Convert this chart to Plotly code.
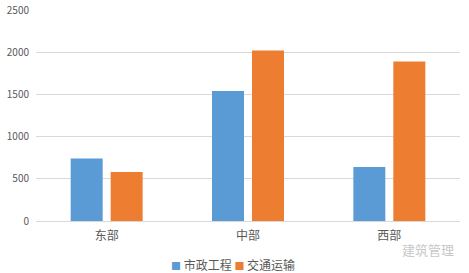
import plotly.graph_objects as go

categories = ["东部", "中部", "西部"]
series_names = ["市政工程", "交通运输"]
municipal = [740, 1540, 640]
transport = [580, 2020, 1890]
colors = ["#5b9bd5", "#ed7d31"]
y_ticks = [0, 500, 1000, 1500, 2000, 2500]

font_family = "Noto Sans CJK SC, Noto Sans, sans-serif"

fig = go.Figure()
for name, vals, c in zip(series_names, [municipal, transport], colors):
    fig.add_trace(go.Bar(x=categories, y=vals, name=name, marker=dict(color=c, line=dict(width=0))))

fig.update_layout(
    width=469, height=273,
    margin=dict(l=36, r=9, t=10, b=52, autoexpand=False),
    paper_bgcolor="white", plot_bgcolor="white",
    barmode="group", bargap=0.434, bargroupgap=0.2,
    font=dict(family=font_family, color="#595959", size=11),
    showlegend=False,
    xaxis=dict(showline=True, linecolor="#d9d9d9", linewidth=1, ticks="",
               tickfont=dict(size=12, color="#595959"), showgrid=False, ticklabelstandoff=4),
    yaxis=dict(range=[0, 2500], tickvals=y_ticks, showgrid=True, gridcolor="#d9d9d9",
               gridwidth=1, zeroline=False, showline=False, ticks="",
               tickfont=dict(size=10, color="#595959"), ticklabelstandoff=6),
)

legend_text = " ".join(
    f'<span style="color:{c};font-size:10px">■</span> {n}' for n, c in zip(series_names, colors)
)
fig.add_annotation(text=legend_text, xref="paper", yref="paper", x=0.465, y=-0.204,
                   xanchor="center", yanchor="middle", showarrow=False,
                   font=dict(size=12, color="#595959", family=font_family))
fig.add_annotation(text="建筑管理", xref="paper", yref="paper", x=0.99, y=-0.137,
                   xanchor="right", yanchor="middle", showarrow=False,
                   font=dict(size=13, color="#c8c8c8", family=font_family))
fig.write_html("out.html")
